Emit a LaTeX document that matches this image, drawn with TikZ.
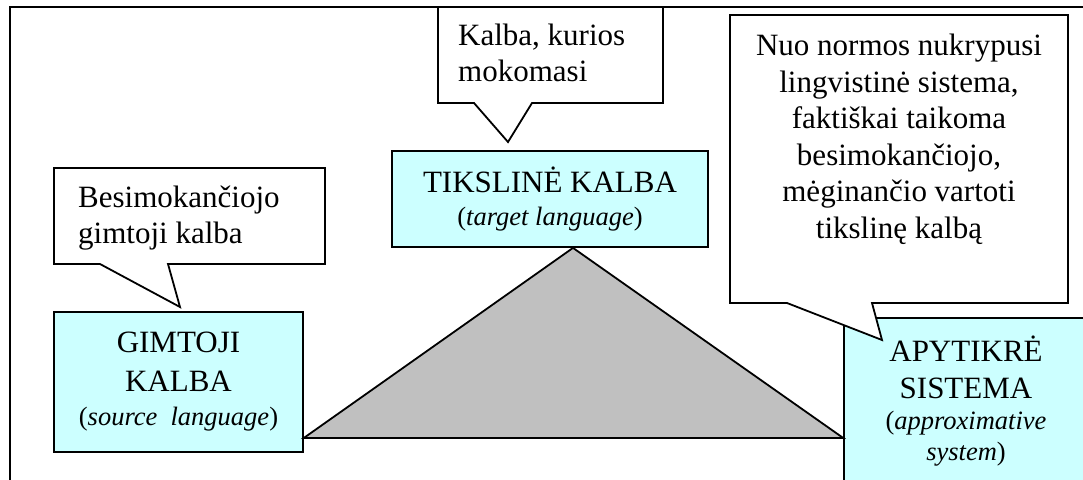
\documentclass[tikz,border=0pt]{standalone}
\usepackage{fontspec}
\setmainfont{Liberation Serif}
\usetikzlibrary{calc}
\definecolor{boxcyan}{RGB}{204,255,255}
\definecolor{trigray}{RGB}{192,192,192}
\newcommand\parenfont{\fontsize{26.5}{30}\selectfont}
\begin{document}
\begin{tikzpicture}[x=1pt,y=-1pt,
  bigfont/.style={font=\fontsize{31}{36.5}\selectfont},
  concept/.style={draw=black, line width=1.8pt, fill=boxcyan, inner sep=0pt, align=center, bigfont},
  callout/.style={draw=black, line width=1.8pt, fill=white, line join=miter},
  calltext/.style={inner sep=0pt, bigfont},
  frame/.style={draw=black, line width=2.6pt},
  wedge/.style={draw=black, line width=1.8pt, fill=trigray, line join=miter}
]
\useasboundingbox (0,0) rectangle (1083,479);
\clip (0,0) rectangle (1083,479);
% outer frame
\draw[frame] (10,7) rectangle (1100,520);
% concept boxes
\node[concept, minimum width=249pt, minimum height=140pt] (src) at (178.5,382)
  {GIMTOJI\\[2pt]KALBA\\[-2pt]{\parenfont(\textit{source\ \ language})}};
\node[concept, minimum width=316pt, minimum height=96pt] (tgt) at (550,199)
  {TIKSLINĖ KALBA\\[-4pt]{\parenfont(\textit{target language})}};
\node[concept, minimum width=244pt, minimum height=166pt] (apx) at (966,401)
  {APYTIKRĖ\\SISTEMA\\[-5pt]{\parenfont(\textit{approximative}}\\[-6pt]{\parenfont\textit{system})}};
% triangle
\coordinate (tl) at ($(src.south east)+(0,-15)$);
\coordinate (ttop) at ($(tgt.south)+(23,0)$);
\coordinate (tr) at (tl -| apx.west);
\draw[wedge] (tl) -- (ttop) -- (tr) -- cycle;
% callouts
\draw[callout] (54,168) -- (325,168) -- (325,264) -- (168,264) -- (180,307) -- (100,264) -- (54,264) -- cycle;
\draw[callout] (438,7) -- (663,7) -- (663,103) -- (532,103) -- (508,142) -- (474,103) -- (438,103) -- cycle;
\draw[callout] (730,15) -- (1068,15) -- (1068,303) -- (872,303) -- (882,340) -- (787,303) -- (730,303) -- cycle;
\node[calltext, anchor=west, align=left] (c1) at (78,218) {Besimokančiojo\\gimtoji kalba};
\node[calltext, anchor=west, align=left] (c2) at (458,53) {Kalba, kurios\\mokomasi};
\node[calltext, align=center] (c3) at (899,139.5) {Nuo normos nukrypusi\\lingvistinė sistema,\\faktiškai taikoma\\besimokančiojo,\\mėginančio vartoti\\tikslinę kalbą};
\end{tikzpicture}
\end{document}
